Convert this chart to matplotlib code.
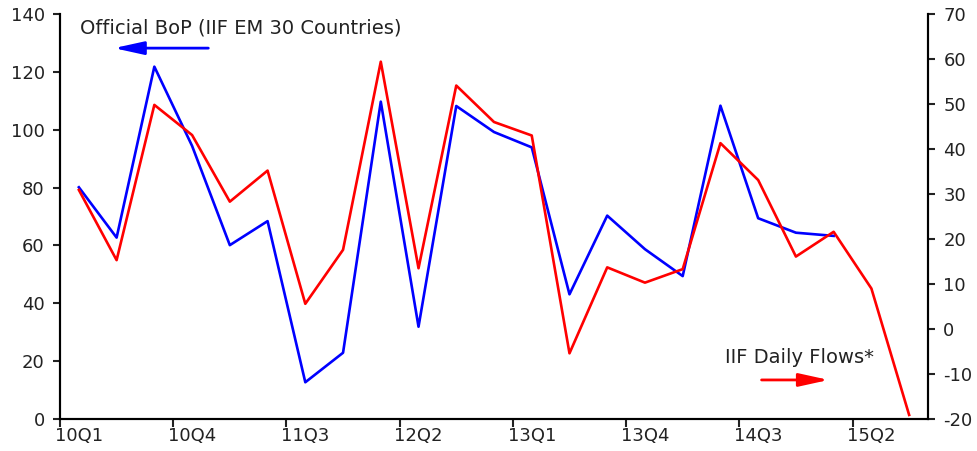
import matplotlib.pyplot as plt
import numpy as np

plt.rcParams['font.family'] = ['DejaVu Sans']
plt.rcParams['axes.unicode_minus'] = False

quarters = ['10Q1', '10Q2', '10Q3', '10Q4', '11Q1', '11Q2', '11Q3', '11Q4',
            '12Q1', '12Q2', '12Q3', '12Q4', '13Q1', '13Q2', '13Q3', '13Q4',
            '14Q1', '14Q2', '14Q3', '14Q4', '15Q1', '15Q2', '15Q3']

# Official BoP flows, left axis (available through 15Q1)
official_bop = [80.1, 62.7, 121.8, 94.4, 60.1, 68.4, 12.7, 22.9, 109.7, 31.9,
                108.2, 99.2, 93.9, 43.1, 70.3, 58.7, 49.4, 108.3, 69.4, 64.4,
                63.3]

# IIF daily flows, right axis
daily_flows = [30.9, 15.3, 49.8, 43.1, 28.3, 35.2, 5.6, 17.6, 59.4, 13.5,
               54.1, 46.0, 43.0, -5.4, 13.7, 10.3, 13.3, 41.3, 33.1, 16.1,
               21.6, 9.0, -19.1]

fig = plt.figure(figsize=(9.77, 4.51), dpi=100)
ax = fig.add_axes([60 / 977, 1 - 419 / 451, 868 / 977, 405 / 451])
ax2 = ax.twinx()

x = np.arange(len(quarters))
ax.plot(x[:len(official_bop)], official_bop, color='#0000FF', lw=1.9, zorder=3)
ax2.plot(x, daily_flows, color='#FF0000', lw=1.9, zorder=3)

ax.set_xlim(-0.5, len(quarters) - 0.5)
ax.set_ylim(0, 140)
ax.set_yticks(np.arange(0, 141, 20))
ax2.set_ylim(-20, 70)
ax2.set_yticks(np.arange(-20, 71, 10))

# tick marks sit on category boundaries, labels on every third quarter
ax.set_xticks(np.arange(-0.5, len(quarters) - 1, 3))
ax.set_xticklabels([])
ax.set_xticks(x[::3], minor=True)
ax.set_xticklabels(quarters[::3], minor=True)
ax.tick_params(axis='x', which='minor', length=0, pad=6)
ax.tick_params(axis='x', which='major', length=6, width=1.5, direction='out')
ax.tick_params(axis='y', length=5, width=1.5, direction='out', pad=6)
ax2.tick_params(axis='y', length=5, width=1.5, direction='out', pad=6)
for a in (ax, ax2):
    a.tick_params(which='both', labelsize=13, colors='#222222')
    a.spines['top'].set_visible(False)
    for s in ('left', 'right', 'bottom'):
        a.spines[s].set_linewidth(1.5)

ax.text(0.03, 135.2, 'Official BoP (IIF EM 30 Countries)', fontsize=14,
        ha='left', va='center', color='#222222')
ax.annotate('', xy=(0.93, 128.2), xytext=(3.43, 128.2),
            arrowprops=dict(arrowstyle='-|>,head_length=1.0,head_width=0.22',
                            mutation_scale=18, color='#0000FF', lw=2,
                            shrinkA=0, shrinkB=0))

ax.text(21.07, 21.4, 'IIF Daily Flows*', fontsize=14,
        ha='right', va='center', color='#222222')
ax.annotate('', xy=(19.87, 13.5), xytext=(18.09, 13.5),
            arrowprops=dict(arrowstyle='-|>,head_length=1.0,head_width=0.22',
                            mutation_scale=18, color='#FF0000', lw=2,
                            shrinkA=0, shrinkB=0))

fig.savefig('out.png', dpi=100)
